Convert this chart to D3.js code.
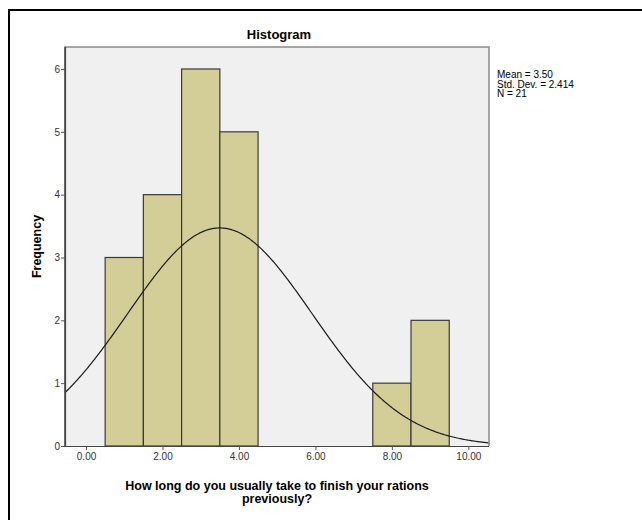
<!DOCTYPE html>
<html>
<head>
<meta charset="utf-8">
<script src="https://cdn.jsdelivr.net/npm/d3@7"></script>
<style>
  html, body { margin: 0; padding: 0; background: #fff; }
  svg { display: block; font-family: "Liberation Sans", Arial, sans-serif; }
</style>
</head>
<body>
<svg id="chart" width="642" height="520"></svg>
<script>
// Histogram bins (bin centre, width 1) and their frequencies
const binCenters = [1, 2, 3, 4, 8, 9];
const frequencies = [3, 4, 6, 5, 1, 2];
const binWidth = 1;

// Summary statistics shown beside the plot
const statMean = 3.50;
const statSD = 2.414;
const statN = 21;

const xTicks = [0, 2, 4, 6, 8, 10];
const yTicks = [0, 1, 2, 3, 4, 5, 6];

const titleText = "Histogram";
const xLabelLines = ["How long do you usually take to finish your rations", "previously?"];
const yLabelText = "Frequency";

const svg = d3.select("#chart");

const plot = { left: 65, right: 489, top: 47, bottom: 446 };

const x = d3.scaleLinear().domain([-0.55, 10.54]).range([plot.left, plot.right]);
const y = d3.scaleLinear().domain([0, 6.35]).range([plot.bottom, plot.top]);

// Outer frame (top and left edges visible)
svg.append("path")
  .attr("d", `M9,520 V10 H642`)
  .attr("fill", "none")
  .attr("stroke", "#000")
  .attr("stroke-width", 2);

// Plot background
svg.append("rect")
  .attr("x", plot.left).attr("y", plot.top)
  .attr("width", plot.right - plot.left).attr("height", plot.bottom - plot.top)
  .attr("fill", "#f0f0f0");

// Bars
svg.append("g").selectAll("rect")
  .data(binCenters.map((c, i) => ({ c, f: frequencies[i] })))
  .join("rect")
  .attr("x", d => x(d.c - binWidth / 2))
  .attr("y", d => y(d.f))
  .attr("width", d => x(d.c + binWidth / 2) - x(d.c - binWidth / 2))
  .attr("height", d => y(0) - y(d.f))
  .attr("fill", "#d3ce97")
  .attr("stroke", "#3a3a3a")
  .attr("stroke-width", 1.2);

// Fitted normal curve scaled to counts
const pdf = v => Math.exp(-0.5 * ((v - statMean) / statSD) ** 2) / (statSD * Math.sqrt(2 * Math.PI));
const curvePts = d3.range(0, 401).map(i => {
  const v = x.domain()[0] + (x.domain()[1] - x.domain()[0]) * i / 400;
  return [v, statN * binWidth * pdf(v)];
});
svg.append("path")
  .datum(curvePts)
  .attr("fill", "none")
  .attr("stroke", "#1a1a1a")
  .attr("stroke-width", 1.2)
  .attr("d", d3.line().x(d => x(d[0])).y(d => y(d[1])));

// Plot frame
svg.append("path")
  .attr("d", `M${plot.left},${plot.bottom} V${plot.top} H${plot.right} V${plot.bottom}`)
  .attr("fill", "none")
  .attr("stroke", "#8a8a8a")
  .attr("stroke-width", 1.5);
svg.append("line")
  .attr("x1", plot.left).attr("x2", plot.left)
  .attr("y1", plot.top).attr("y2", plot.bottom)
  .attr("stroke", "#444").attr("stroke-width", 1.2);

// Axes
const xAxis = svg.append("g")
  .attr("transform", `translate(0,${plot.bottom})`)
  .call(d3.axisBottom(x).tickValues(xTicks).tickFormat(d3.format(".2f")).tickSize(4).tickPadding(3));
const yAxis = svg.append("g")
  .attr("transform", `translate(${plot.left},0)`)
  .call(d3.axisLeft(y).tickValues(yTicks).tickFormat(d3.format("d")).tickSize(4).tickPadding(1));

[xAxis, yAxis].forEach(g => {
  g.select(".domain").attr("stroke", "#444").attr("stroke-width", 1.2);
  g.selectAll(".tick line").attr("stroke", "#555");
  g.selectAll(".tick text")
    .attr("fill", "#333")
    .style("font-family", "'Liberation Sans', Arial, sans-serif")
    .style("font-size", "10px");
});
xAxis.select(".domain").attr("d", `M${plot.left},0.5H${plot.right}`);
yAxis.select(".domain").attr("d", `M0.5,${plot.top}V${plot.bottom}`);

// Title
svg.append("text")
  .attr("x", (plot.left + plot.right) / 2 + 2)
  .attr("y", 39)
  .attr("text-anchor", "middle")
  .style("font-size", "13px")
  .style("font-weight", "bold")
  .attr("fill", "#000")
  .text(titleText);

// X axis label
svg.append("text")
  .attr("x", (plot.left + plot.right) / 2)
  .attr("text-anchor", "middle")
  .style("font-size", "12.5px")
  .style("font-weight", "bold")
  .attr("fill", "#000")
  .selectAll("tspan")
  .data(xLabelLines)
  .join("tspan")
  .attr("x", (plot.left + plot.right) / 2)
  .attr("y", (d, i) => 490 + i * 13)
  .text(d => d);

// Y axis label
svg.append("text")
  .attr("transform", `translate(41,${(plot.top + plot.bottom) / 2}) rotate(-90)`)
  .attr("text-anchor", "middle")
  .style("font-size", "12.5px")
  .style("font-weight", "bold")
  .attr("fill", "#000")
  .text(yLabelText);

// Statistics legend
const statLines = [
  `Mean = ${statMean.toFixed(2)}`,
  `Std. Dev. = ${statSD.toFixed(3)}`,
  `N = ${statN}`
];
svg.append("g").selectAll("text")
  .data(statLines)
  .join("text")
  .attr("x", 497)
  .attr("y", (d, i) => 78 + i * 9.5)
  .style("font-size", "10px")
  .attr("fill", "#000")
  .text(d => d);
</script>
</body>
</html>
